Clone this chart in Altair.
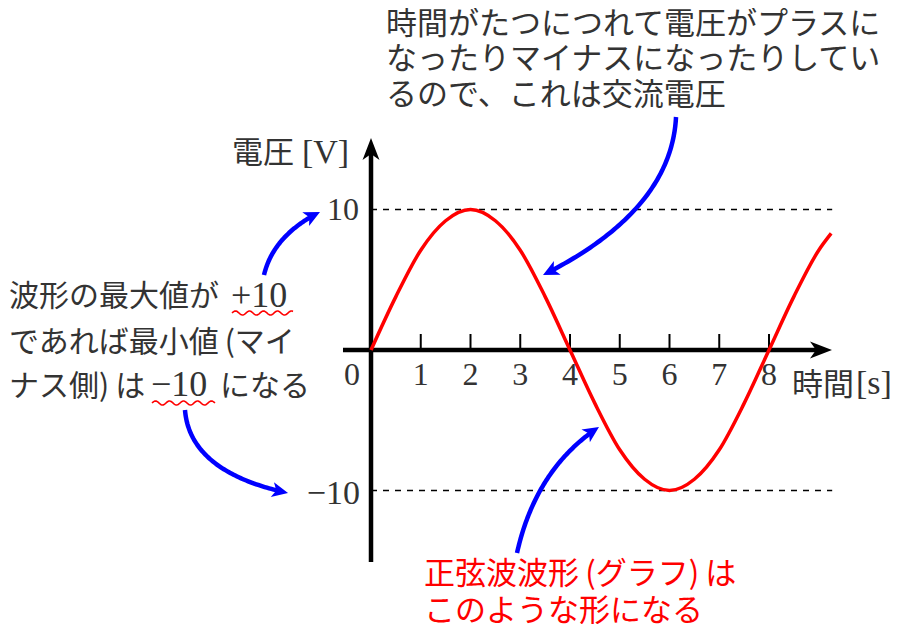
import math
import unicodedata
import numpy as np
import pandas as pd
import altair as alt

# ---------------- data ----------------
time_s = [0, 0.5, 1, 1.5, 2, 2.5, 3, 3.5, 4, 4.5, 5, 5.5, 6, 6.5, 7, 7.5, 8, 8.5, 9, 9.25]
voltage_v = [0, 3.8, 7.1, 9.2, 10, 9.2, 7.1, 3.8, 0, -3.8, -7.1, -9.2, -10, -9.2, -7.1, -3.8, 0, 3.8, 7.1, 8.3]
tick_values = [1, 2, 3, 4, 5, 6, 7, 8]
tick_labels = ["1", "2", "3", "4", "5", "6", "7", "8"]
level_values = [10, -10]
level_labels = ["10", "−10"]

top_note = ["時間がたつにつれて電圧がプラスに", "なったりマイナスになったりしてい", "るので、これは交流電圧"]
left_note = ["波形の最大値が", "であれば最小値\u2009(マイ", "ナス側)\u2009は"]
red_note = ["正弦波波形\u2009(グラフ)\u2009は", "このような形になる"]


def nfc(lst):
    return [unicodedata.normalize("NFC", s) for s in lst]


top_note, left_note, red_note = nfc(top_note), nfc(left_note), nfc(red_note)

# ---------------- layout ----------------
W, H = 886, 616
OX, OY = 363.0, 342.0      # origin of the graph inside the chart (px)
KX, KY = 49.75, 14.05      # px per second, px per volt
XDOM = [-OX / KX, (W - OX) / KX]
YDOM = [(OY - H) / KY, OY / KY]
xs = alt.Scale(domain=XDOM, nice=False, zero=False)
ys = alt.Scale(domain=YDOM, nice=False, zero=False)

JP = "Noto Sans CJK JP"
SERIF = "Liberation Serif"
GRAY = "#333333"
RED = "#ff0000"
BLUE = "#0000ff"


def XE(f="t"):
    return alt.X(f"{f}:Q", scale=xs, axis=None)


def YE(f="v"):
    return alt.Y(f"{f}:Q", scale=ys, axis=None)


# dashed max/min levels
dash_df = pd.DataFrame({"t": [0.0] * 2, "t2": [9.27] * 2, "v": level_values})
dashes = alt.Chart(dash_df).mark_rule(color="black", strokeWidth=1.5, strokeDash=[6, 6]).encode(
    x=XE(), x2="t2:Q", y=YE())

# axes
hax_df = pd.DataFrame({"t": [-0.563], "t2": [8.99], "v": [0.0]})
hax = alt.Chart(hax_df).mark_rule(color="black", strokeWidth=4.5).encode(x=XE(), x2="t2:Q", y=YE())
vax_df = pd.DataFrame({"t": [0.0], "v": [-15.09], "v2": [14.1]})
vax = alt.Chart(vax_df).mark_rule(color="black", strokeWidth=4.5).encode(x=XE(), y=YE(), y2="v2:Q")

tick_df = pd.DataFrame({"t": tick_values, "v": [0.0] * len(tick_values), "v2": [1.14] * len(tick_values)})
ticks = alt.Chart(tick_df).mark_rule(color="black", strokeWidth=2).encode(x=XE(), y=YE(), y2="v2:Q")

AX_HEAD = "M0,0 L-0.77,2 L0,1.45 L0.77,2 Z"
axhead_df = pd.DataFrame({"t": [9.266, 0.0], "v": [0.0, 15.09], "ang": [90, 0]})
axheads = alt.Chart(axhead_df).mark_point(shape=AX_HEAD, size=484, filled=True, color="black",
                                          opacity=1, strokeWidth=0).encode(
    x=XE(), y=YE(), angle=alt.Angle("ang:Q", scale=None))

# sine wave
sine_df = pd.DataFrame({"t": time_s, "v": voltage_v})
sine = alt.Chart(sine_df).mark_line(color=RED, strokeWidth=3.5, interpolate="monotone").encode(x=XE(), y=YE())

# blue curved arrows (quadratic curves: start, control, tip) in data units
arrow_defs = [
    ((6.131, 16.584), (6.036, 9.907), (3.457, 5.338)),
    ((2.935, -14.448), (3.311, -8.463), (4.583, -5.480)),
    ((-2.151, 5.338), (-1.960, 8.171), (-1.025, 9.822)),
    ((-3.739, -4.270), (-3.638, -8.683), (-1.668, -10.178)),
]
rows, heads = [], []
for k, (p0, p1, p2) in enumerate(arrow_defs):
    s = np.linspace(0, 1, 80)
    tt = (1 - s) ** 2 * p0[0] + 2 * (1 - s) * s * p1[0] + s ** 2 * p2[0]
    vv = (1 - s) ** 2 * p0[1] + 2 * (1 - s) * s * p1[1] + s ** 2 * p2[1]
    d = np.hypot((tt - p2[0]) * KX, (vv - p2[1]) * KY)
    for i, (a, b, dd) in enumerate(zip(tt, vv, d)):
        if dd >= 9:
            rows.append({"id": k, "i": i, "t": a, "v": b})
    dx = (p2[0] - p1[0]) * KX
    dy = -(p2[1] - p1[1]) * KY
    ang = math.degrees(math.atan2(dx, -dy)) % 360
    heads.append({"t": p2[0], "v": p2[1], "ang": ang})

curve_df = pd.DataFrame(rows)
curves = alt.Chart(curve_df).mark_line(color=BLUE, strokeWidth=4.5).encode(
    x=XE(), y=YE(), detail="id:N", order="i:Q")
BL_HEAD = "M0,0 L-0.95,2 L0,1.5 L0.95,2 Z"
bheads = alt.Chart(pd.DataFrame(heads)).mark_point(shape=BL_HEAD, size=256, filled=True, color=BLUE,
                                                   opacity=1, strokeWidth=0).encode(
    x=XE(), y=YE(), angle=alt.Angle("ang:Q", scale=None))

# red wavy underlines
wrows = []
for k, (t0, t1, v0) in enumerate([(-2.794, -1.568, 2.633), (-4.402, -3.136, -3.772)]):
    tt = np.linspace(t0, t1, 90)
    vv = v0 + (2.0 / KY) * np.sin(2 * np.pi * (tt - t0) * KX / 14.0)
    for i, (a, b) in enumerate(zip(tt, vv)):
        wrows.append({"id": k, "i": i, "t": a, "v": b})
waves = alt.Chart(pd.DataFrame(wrows)).mark_line(color=RED, strokeWidth=1.6).encode(
    x=XE(), y=YE(), detail="id:N", order="i:Q")


def text_layer(df, font, size, color, align="left"):
    return alt.Chart(df).mark_text(font=font, fontSize=size, color=color, align=align,
                                   baseline="middle").encode(x=XE(), y=YE(), text="s:N")


top_df = pd.DataFrame({"t": [0.30] * 3, "v": [23.167, 20.605, 18.043], "s": top_note})
left_df = pd.DataFrame({"t": [-7.276] * 3, "v": [3.737, 0.463, -2.633], "s": left_note})
left_tail = pd.DataFrame({"t": [-3.035], "v": [-2.633], "s": ["になる"]})
red_df = pd.DataFrame({"t": [1.065] * 2, "v": [-15.98, -18.68], "s": red_note})
jp_axis = pd.DataFrame({"t": [8.46, -2.794], "v": [-2.527, 13.915], "s": ["時間", "電圧"]})

serif_unit = pd.DataFrame({"t": [9.749, -1.387], "v": [-2.434, 14.007], "s": ["[s]", "[V]"]})
serif_inline = pd.DataFrame({"t": [-2.814, -4.422], "v": [3.85, -2.52], "s": ["+10", "−10"]})
xlab_df = pd.DataFrame({"t": [-0.382] + tick_values, "v": [-1.794] * (1 + len(tick_values)),
                        "s": ["0"] + tick_labels})
ylab_df = pd.DataFrame({"t": [-0.241], "v": [9.95], "s": level_labels[:1]})
ylab_neg = pd.DataFrame({"t": [-0.221], "v": [-10.27], "s": level_labels[1:]})

layers = [
    dashes, hax, vax, ticks, axheads, sine, curves, bheads, waves,
    text_layer(top_df, JP, 31, GRAY),
    text_layer(left_df, JP, 30, GRAY),
    text_layer(left_tail, JP, 30, GRAY),
    text_layer(red_df, JP, 31, RED),
    text_layer(jp_axis, JP, 31, GRAY),
    text_layer(serif_unit, SERIF, 34, GRAY),
    text_layer(serif_inline, SERIF, 36, GRAY),
    text_layer(xlab_df, SERIF, 32, GRAY, align="center"),
    text_layer(ylab_df, SERIF, 32, GRAY, align="right"),
    text_layer(ylab_neg, SERIF, 34, GRAY, align="right"),
]

chart = alt.layer(*layers).properties(
    width=W, height=H, padding=0, background="white",
    autosize=alt.AutoSizeParams(type="none"),
).configure_view(stroke=None)

chart.save("out.html", embed_options={"renderer": "svg", "actions": False})
